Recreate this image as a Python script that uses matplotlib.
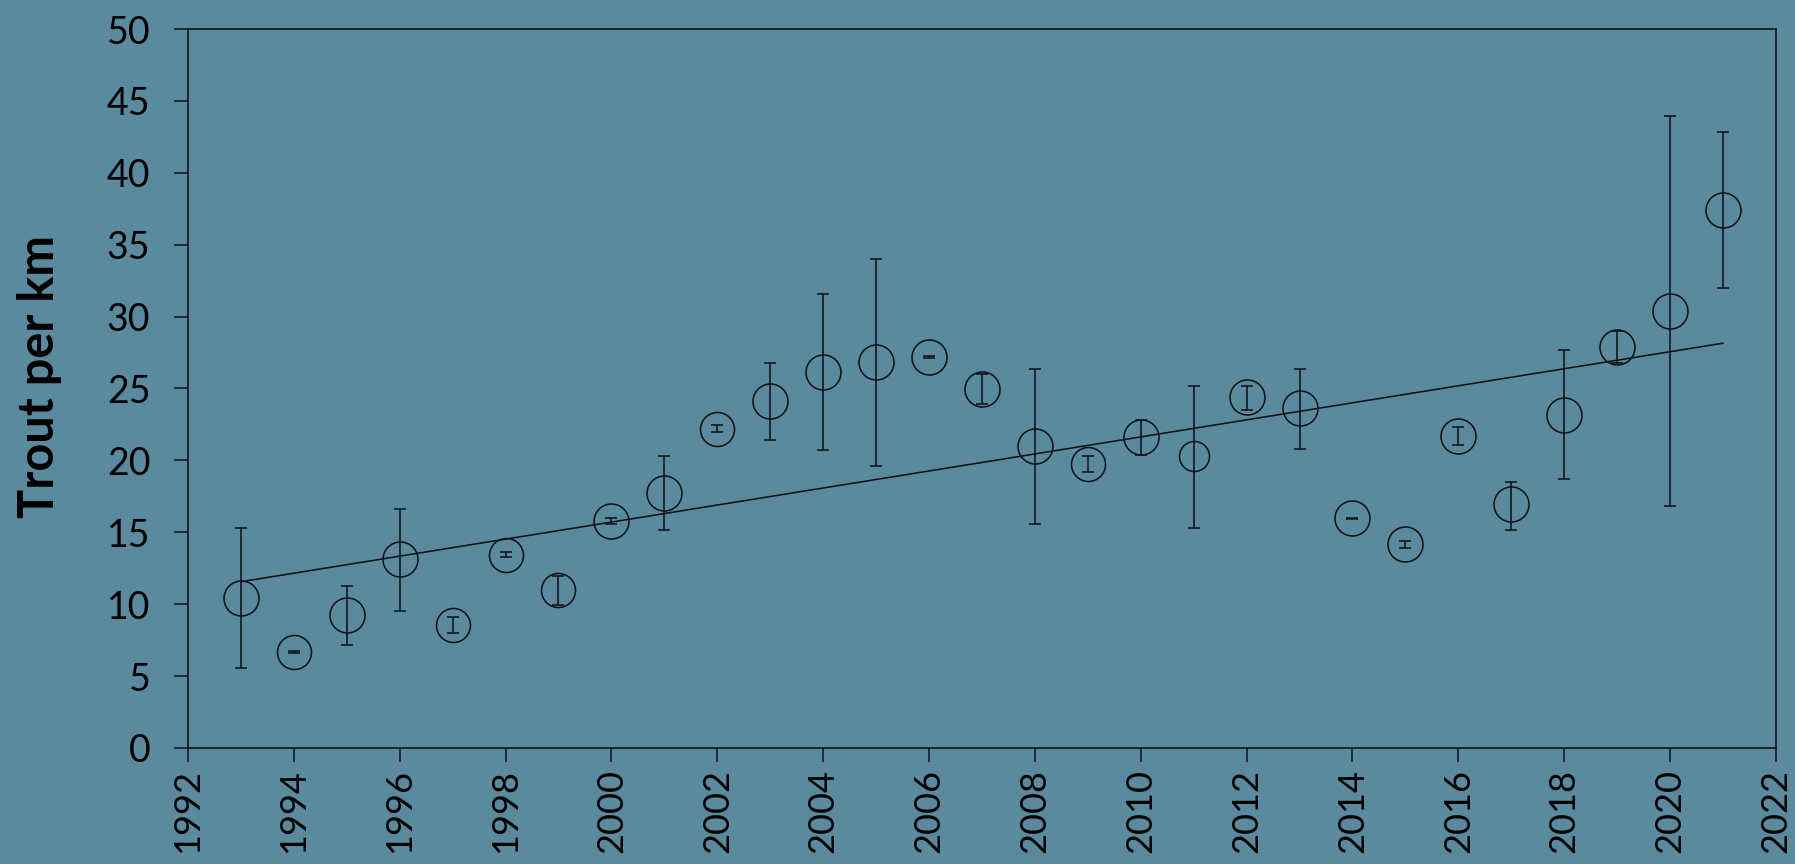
import numpy as np
import matplotlib
matplotlib.use("Agg")
import matplotlib.pyplot as plt

years = [1993, 1994, 1995, 1996, 1997, 1998, 1999, 2000, 2001, 2002,
         2003, 2004, 2005, 2006, 2007, 2008, 2009, 2010, 2011, 2012,
         2013, 2014, 2015, 2016, 2017, 2018, 2019, 2020, 2021]
trout = [10.41, 6.70, 9.25, 13.12, 8.55, 13.42, 10.99, 15.79, 17.75, 22.20,
         24.10, 26.15, 26.82, 27.19, 24.97, 21.03, 19.75, 21.65, 20.31, 24.43,
         23.62, 15.97, 14.16, 21.72, 16.95, 23.16, 27.86, 30.41, 37.41]
err_high = [15.30, 6.77, 11.29, 16.64, 9.13, 13.60, 11.98, 15.97, 20.30, 22.46,
            26.77, 31.57, 34.00, 27.25, 26.03, 26.38, 20.33, 22.81, 25.20, 25.20,
            26.38, 16.00, 14.39, 22.35, 18.52, 27.68, 29.00, 43.95, 42.81]
err_low = [5.54, 6.62, 7.14, 9.55, 7.98, 13.26, 9.94, 15.58, 15.16, 21.95,
           21.40, 20.70, 19.61, 27.13, 23.90, 15.60, 19.17, 20.38, 15.32, 23.50,
           20.78, 15.94, 13.88, 21.07, 15.16, 18.69, 26.80, 16.83, 31.97]
marker_px = [35, 34, 35, 35, 34, 34, 34, 35, 35, 34,
             35, 35, 35, 35, 35, 35, 34, 35, 30, 35,
             35, 35, 35, 35, 35, 35, 35, 35, 35]

x_ticks = list(range(1992, 2023, 2))
y_ticks = list(range(0, 51, 5))

BG = "#5B8A9E"
INK = "#101418"

fig = plt.figure(figsize=(17.95, 8.64), dpi=100, facecolor=BG)
ax = fig.add_axes([0.1047, 0.1343, 0.9894 - 0.1047, 0.9664 - 0.1343])
ax.set_facecolor(BG)

yrs = np.array(years, dtype=float)
vals = np.array(trout)
lo = vals - np.array(err_low)
hi = np.array(err_high) - vals

ax.errorbar(yrs, vals, yerr=[lo, hi], fmt="none", ecolor=INK,
            elinewidth=1.15, capsize=4.5, capthick=1.15, zorder=3)

for x, y, m in zip(yrs, vals, marker_px):
    ax.plot([x], [y], marker="o", markersize=m * 0.72, markerfacecolor="none",
            markeredgecolor=INK, markeredgewidth=1.15, linestyle="none", zorder=4)

coef = np.polyfit(yrs, vals, 1)
tx = np.array([yrs.min(), yrs.max()])
ax.plot(tx, np.polyval(coef, tx), color=INK, linewidth=1.15, zorder=2)

ax.set_xlim(1992, 2022)
ax.set_ylim(0, 50)
ax.set_xticks(x_ticks)
ax.set_yticks(y_ticks)

font = "Lato"
ax.set_xticklabels([str(t) for t in x_ticks], rotation=90, fontsize=26,
                   family=font, color="black")
ax.set_yticklabels([str(t) for t in y_ticks], fontsize=27, family=font,
                   color="black")
ax.tick_params(axis="both", direction="out", length=10, width=1.1, colors=INK,
               labelcolor="black")
ax.tick_params(axis="y", pad=17)
ax.tick_params(axis="x", pad=5)

for s in ax.spines.values():
    s.set_color(INK)
    s.set_linewidth(1.2)

ax.set_ylabel("Trout per km", fontsize=35, fontweight="bold", family=font,
              color="black")
ax.yaxis.set_label_coords(-0.079, 0.517)

fig.savefig("out.png", dpi=100, facecolor=BG)
